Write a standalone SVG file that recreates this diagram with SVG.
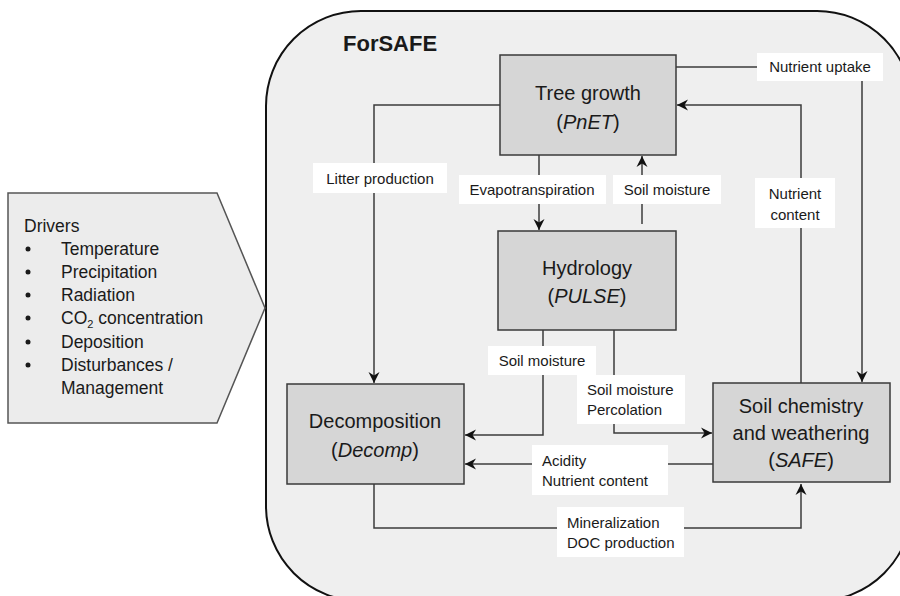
<svg xmlns="http://www.w3.org/2000/svg" width="900" height="596" viewBox="0 0 900 596">
<style>
text{font-family:"Liberation Sans",Arial,sans-serif;fill:#1a1a1a}
.box{fill:#d6d6d6;stroke:#3a3a3a;stroke-width:1.5}
.t{font-size:20px;text-anchor:middle}
.lbl{fill:#ffffff;stroke:none}
.lt{font-size:15px}
.c{fill:none;stroke:#3c3c3c;stroke-width:1.5}
.d{font-size:17.5px}
</style>
<defs>
<marker id="ah" markerUnits="userSpaceOnUse" markerWidth="14" markerHeight="14" refX="11" refY="6" orient="auto">
<path d="M0,0.5 L11,6 L0,11.5 L3.5,6 z" fill="#111"/>
</marker>
</defs>
<rect width="900" height="596" fill="#ffffff"/>
<g id="forsafe">
<rect x="266" y="11" width="646" height="590" rx="95" ry="95" fill="#efefef" stroke="#111" stroke-width="2"/>
<text x="343" y="51" style="font-size:22px;font-weight:bold">ForSAFE</text>
</g>
<g id="drivers">
<polygon points="8,193 217,193 265,308 217,423 8,423" fill="#ececec" stroke="#555" stroke-width="1.5"/>
<text class="d" x="24" y="232">Drivers</text>
<g fill="#1a1a1a">
<circle cx="28" cy="249" r="2.5"/><circle cx="28" cy="272" r="2.5"/><circle cx="28" cy="295" r="2.5"/><circle cx="28" cy="318" r="2.5"/><circle cx="28" cy="342" r="2.5"/><circle cx="28" cy="365" r="2.5"/>
</g>
<text class="d" x="61" y="255">Temperature</text>
<text class="d" x="61" y="278">Precipitation</text>
<text class="d" x="61" y="301">Radiation</text>
<text class="d" x="61" y="324">CO<tspan font-size="11" dy="4">2</tspan><tspan dy="-4"> concentration</tspan></text>
<text class="d" x="61" y="348">Deposition</text>
<text class="d" x="61" y="371">Disturbances /</text>
<text class="d" x="61" y="394">Management</text>
</g>
<g id="connectors">
<polyline class="c" points="500,105 374,105 374,383" marker-end="url(#ah)"/>
<line class="c" x1="539" y1="155" x2="539" y2="230" marker-end="url(#ah)"/>
<line class="c" x1="642" y1="224" x2="642" y2="156" marker-end="url(#ah)"/>
<polyline class="c" points="676,67 862,67 862,382" marker-end="url(#ah)"/>
<polyline class="c" points="801,383 801,105 677,105" marker-end="url(#ah)"/>
<polyline class="c" points="543,330 543,435 465,435" marker-end="url(#ah)"/>
<polyline class="c" points="614,330 614,433 712,433" marker-end="url(#ah)"/>
<line class="c" x1="713" y1="464" x2="465" y2="464" marker-end="url(#ah)"/>
<polyline class="c" points="374,484 374,528 801,528 801,484" marker-end="url(#ah)"/>
</g>
<g id="labels">
<rect class="lbl" x="313" y="163" width="134" height="30"/>
<text class="lt" x="380" y="184" text-anchor="middle">Litter production</text>
<rect class="lbl" x="459" y="175" width="147" height="29"/>
<text class="lt" x="532" y="195" text-anchor="middle">Evapotranspiration</text>
<rect class="lbl" x="613" y="175" width="108" height="29"/>
<text class="lt" x="667" y="195" text-anchor="middle">Soil moisture</text>
<rect class="lbl" x="757" y="53" width="126" height="28"/>
<text class="lt" x="820" y="72" text-anchor="middle">Nutrient uptake</text>
<rect class="lbl" x="755" y="178" width="80" height="50"/>
<text class="lt" x="795" y="199" text-anchor="middle">Nutrient</text>
<text class="lt" x="795" y="220" text-anchor="middle">content</text>
<rect class="lbl" x="488" y="346" width="108" height="29"/>
<text class="lt" x="542" y="366" text-anchor="middle">Soil moisture</text>
<rect class="lbl" x="577" y="375" width="108" height="49"/>
<text class="lt" x="587" y="395">Soil moisture</text>
<text class="lt" x="587" y="415">Percolation</text>
<rect class="lbl" x="532" y="445" width="136" height="50"/>
<text class="lt" x="542" y="466">Acidity</text>
<text class="lt" x="542" y="486">Nutrient content</text>
<rect class="lbl" x="557" y="507" width="127" height="50"/>
<text class="lt" x="567" y="528">Mineralization</text>
<text class="lt" x="567" y="548">DOC production</text>
</g>
<g id="tree-growth">
<rect class="box" x="500" y="55" width="176" height="100"/>
<text class="t" x="588" y="100">Tree growth</text>
<text class="t" x="588" y="129">(<tspan font-style="italic">PnET</tspan>)</text>
</g>
<g id="hydrology">
<rect class="box" x="498" y="231" width="178" height="99"/>
<text class="t" x="587" y="275">Hydrology</text>
<text class="t" x="587" y="303">(<tspan font-style="italic">PULSE</tspan>)</text>
</g>
<g id="decomposition">
<rect class="box" x="287" y="384" width="177" height="100"/>
<text class="t" x="375" y="428">Decomposition</text>
<text class="t" x="375" y="457">(<tspan font-style="italic">Decomp</tspan>)</text>
</g>
<g id="soil-chemistry">
<rect class="box" x="713" y="383" width="177" height="99"/>
<text class="t" x="801" y="413">Soil chemistry</text>
<text class="t" x="801" y="440">and weathering</text>
<text class="t" x="801" y="467">(<tspan font-style="italic">SAFE</tspan>)</text>
</g>
</svg>
